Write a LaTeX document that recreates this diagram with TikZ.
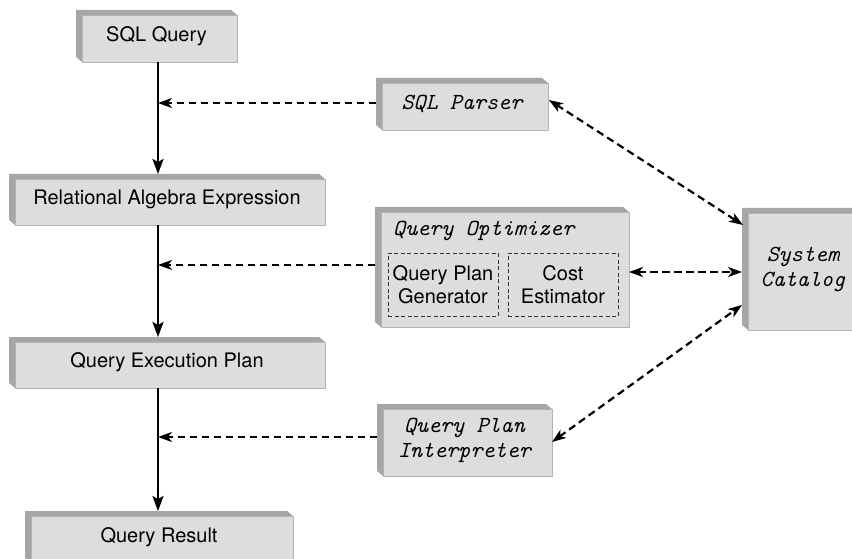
\documentclass[tikz,border=0pt]{standalone}
\usepackage{fontspec}
\newfontfamily\hv{TeX Gyre Heros}
\usetikzlibrary{arrows.meta,calc,backgrounds}
\definecolor{facegray}{HTML}{DDDDDD}
\definecolor{bevelgray}{HTML}{A6A6A6}
\definecolor{edgegray}{HTML}{B4B4B4}
\begin{document}
\begin{tikzpicture}[x=1pt,y=-1pt,
  box/.style={rectangle, inner sep=0pt, outer sep=0pt, align=center},
  sans/.style={font=\hv\fontsize{20}{23}\selectfont},
  mono/.style={font=\ttfamily\itshape\fontsize{23}{25}\selectfont},
  flow/.style={line width=2.4pt, -{Stealth[length=15pt,width=11pt,inset=3pt]}},
  ctl/.style={line width=2.2pt, dash pattern=on 7.5pt off 4.5pt, -{Stealth[length=14pt,width=10pt,inset=4pt]}},
  both/.style={line width=2.2pt, dash pattern=on 7.5pt off 4.5pt, {Stealth[length=14pt,width=10pt,inset=4pt]}-{Stealth[length=14pt,width=10pt,inset=4pt]}},
  subbox/.style={rectangle, draw=black!80, dash pattern=on 4pt off 2.5pt, line width=0.9pt, inner sep=0pt, align=center},
  bevel/.style={fill=bevelgray},
  face/.style={fill=facegray, draw=edgegray, line width=0.6pt}
]
\useasboundingbox (0,0) rectangle (852,559);

% main flow boxes
\node[box,sans,minimum width=161pt,minimum height=52pt] (sql) at (156.5,36) {SQL Query};
\node[box,sans,minimum width=316pt,minimum height=51pt] (rae) at (167,199.5) {Relational Algebra Expression};
\node[box,sans,minimum width=316pt,minimum height=51pt] (qep) at (167,362.5) {Query Execution Plan};
\node[box,sans,minimum width=268pt,minimum height=52pt] (qr) at (159,537) {Query Result};

% processing boxes
\node[box,mono,minimum width=172pt,minimum height=52pt] (parser) at (462,104) {SQL Parser};
\node[box,minimum width=254pt,minimum height=120pt] (opt) at (502,267) {};
\node[box,mono,minimum width=175pt,minimum height=72pt] (interp) at (464.5,440) {Query Plan\\Interpreter};
\node[box,mono,minimum width=122pt,minimum height=122pt] (cat) at (803,269) {System\\Catalog};

% optimizer contents
\node[mono,anchor=base west,inner sep=0pt] (opttitle) at (393,235) {Query Optimizer};
\node[subbox,sans,minimum width=110pt,minimum height=63pt] (qpg) at (443,284.5) {Query Plan\\Generator};
\node[subbox,sans,minimum width=110pt,minimum height=63pt] (ce) at (563,284.5) {Cost\\Estimator};

% helper coordinates
\coordinate (spine) at (158,0);
\coordinate (ycat) at (0,272);

% 3D boxes drawn behind
\begin{pgfonlayer}{background}
\fill[white] (0,0) rectangle (852,559);
\foreach \n in {sql,rae,qep,qr,parser,opt,interp,cat} {
  \fill[bevel] ($(\n.south west)+(6pt,0pt)$) -- ($(\n.south west)+(0pt,5pt)$) -- (\n.north west)
     -- ($(\n.north east)+(-6pt,0pt)$) -- ($(\n.north east)+(0pt,-5pt)$) -- ($(\n.north west)+(6pt,-5pt)$) -- cycle;
  \filldraw[face] ($(\n.south west)+(6pt,0pt)$) rectangle ($(\n.north east)+(0pt,-5pt)$);
}
\end{pgfonlayer}

% main flow
\draw[flow] (sql.south -| spine) -- (rae.north -| spine);
\draw[flow] (rae.south -| spine) -- (qep.north -| spine);
\draw[flow] (qep.south -| spine) -- (qr.north -| spine);

% control arrows into the flow
\draw[ctl] ($(parser.west)+(0pt,1pt)$) -- ($(parser.west -| spine)+(0pt,1pt)$);
\draw[ctl] ($(opt.west)+(0pt,2pt)$) -- ($(opt.west -| spine)+(0pt,2pt)$);
\draw[ctl] ($(interp.west)+(0pt,3pt)$) -- ($(interp.west -| spine)+(0pt,3pt)$);

% catalog links
\draw[both] ($(parser.east)+(1pt,4pt)$) -- ($(cat.north west)+(1pt,-17pt)$);
\draw[both] (opt.east |- ycat) -- (cat.west |- ycat);
\draw[both] ($(interp.east)+(0pt,-2pt)$) -- ($(cat.south west)+(0pt,25pt)$);
\end{tikzpicture}
\end{document}
